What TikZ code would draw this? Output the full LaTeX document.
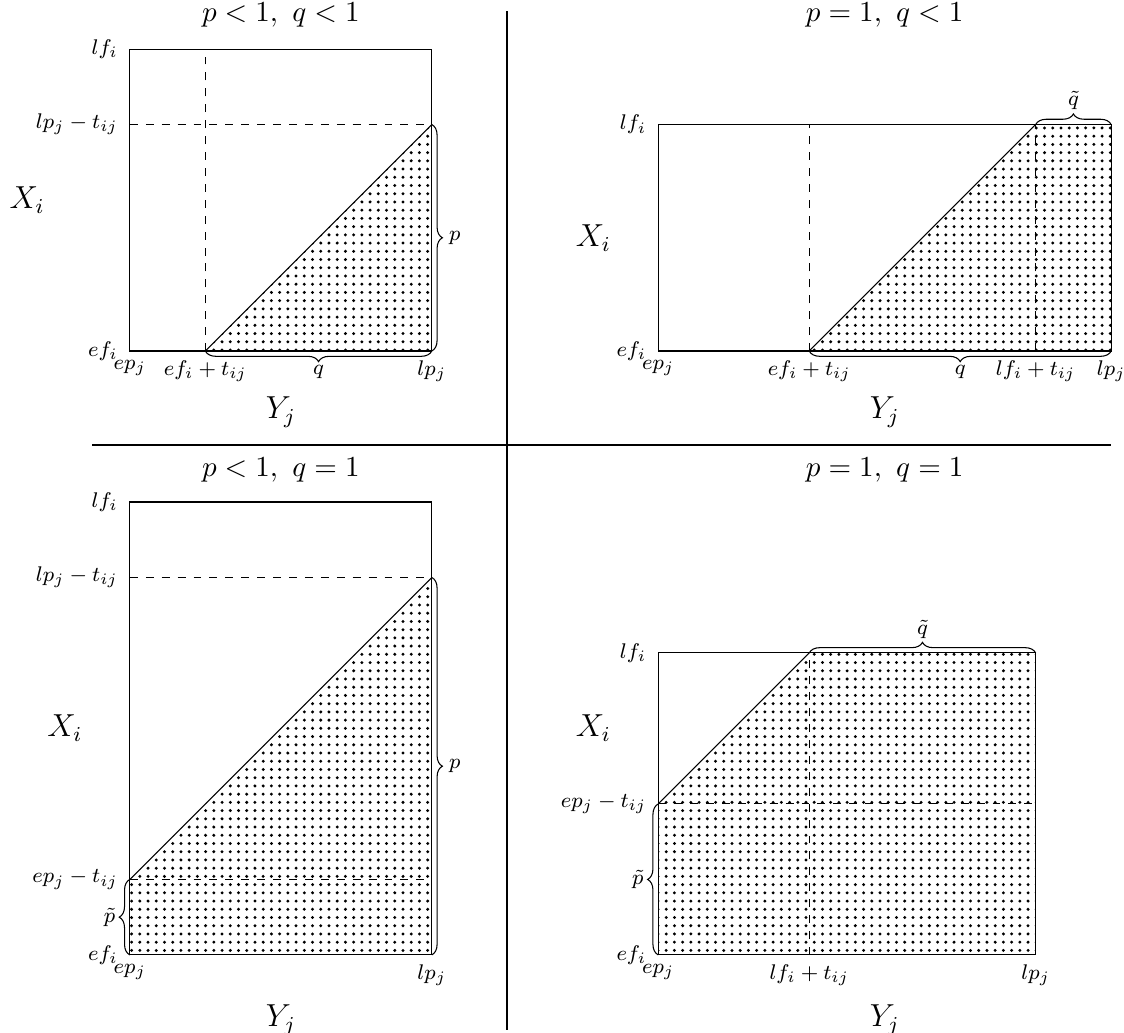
\documentclass[tikz,border=0pt]{standalone}
\usepackage{amsmath,amssymb}
\usepackage{tikz}
\usetikzlibrary{positioning,patterns,decorations.pathreplacing}
\pgfdeclarepatternformonly{bigdots}{\pgfqpoint{-1pt}{-1pt}}{\pgfqpoint{1pt}{1pt}}{\pgfqpoint{3.1pt}{3.1pt}}{%
  \pgfpathcircle{\pgfpointorigin}{0.62pt}\pgfusepath{fill}}
\tikzset{
  ttl/.style={font=\fontsize{11}{13}\selectfont},
  axlbl/.style={font=\large},
  lbl/.style={font=\footnotesize},
  brc/.style={decorate, decoration={brace, amplitude=4pt}},
  guide/.style={dashed},
  shade/.style={pattern=bigdots},
  divider/.style={thick}
}

\begin{document}
\begin{tikzpicture}
    \useasboundingbox (-1.72,-9.03) rectangle (13.17,4.65);
    \draw[divider] (5,4.5) -- (5,-9);
    \draw[divider] (-0.5,-1.25) -- (13,-1.25);

    % p<1, q<1
    \fill[shade] (1,0) -- (4,3) -- (4,0) -- cycle;
    \draw (0,0) rectangle (4,4);
    \draw[guide] (1,0) -- (1,4);
    \draw[guide] (0,3) -- (4,3);
    \draw (1,0) -- (4,3);
    \draw[brc] (4,3) -- node[lbl, right=3pt] (pA) {$p$} (4,0);
    \draw[brc] (4,0) -- node[lbl, below=2pt] (qA) {$q$} (1,0);
    \node[ttl] (titleA) at (2,4.45) {$p<1,\ q<1$};
    \node[axlbl] (xA) at (-1.36,2) {$X_i$};
    \node[axlbl] (yA) at (2,-0.81) {$Y_j$};
    \node[lbl, left=1pt] (lfA) at (0,4) {$lf_i$};
    \node[lbl, left=1pt] (lptA) at (0,3) {$lp_j-t_{ij}$};
    \node[lbl, left=1pt] (efA) at (0,0) {$ef_i$};
    \node[lbl, below] (epA) at (0,0) {$ep_j$};
    \node[lbl, below] (eftA) at (1,0) {$ef_i+t_{ij}$};
    \node[lbl, below] (lpA) at (4,0) {$lp_j$};

    % p=1, q<1
    \begin{scope}[shift={(7,0)}]
      \fill[shade] (2,0) -- (5,3) -- (6,3) -- (6,0) -- cycle;
      \draw (0,0) rectangle (6,3);
      \draw[guide] (2,0) -- (2,3);
      \draw[guide] (5,0) -- (5,3);
      \draw (2,0) -- (5,3);
      \draw[brc] (5,3) -- node[lbl, above=2pt] (qtB) {$\tilde{q}$} (6,3);
      \draw[brc] (6,0) -- node[lbl, below=2pt] (qB) {$q$} (2,0);
      \node[ttl] (titleB) at (3,4.45) {$p=1,\ q<1$};
      \node[axlbl] (xB) at (-0.86,1.5) {$X_i$};
      \node[axlbl] (yB) at (3,-0.81) {$Y_j$};
      \node[lbl, left=1pt] (lfB) at (0,3) {$lf_i$};
      \node[lbl, left=1pt] (efB) at (0,0) {$ef_i$};
      \node[lbl, below] (epB) at (0,0) {$ep_j$};
      \node[lbl, below] (eftB) at (2,0) {$ef_i+t_{ij}$};
      \node[lbl, below] (lftB) at (5,0) {$lf_i+t_{ij}$};
      \node[lbl, below] (lpB) at (6,0) {$lp_j$};
    \end{scope}

    % p<1, q=1
    \begin{scope}[shift={(0,-8)}]
      \fill[shade] (0,0) -- (0,1) -- (4,5) -- (4,0) -- cycle;
      \draw (0,0) rectangle (4,6);
      \draw[guide] (0,5) -- (4,5);
      \draw[guide] (0,1) -- (4,1);
      \draw (0,1) -- (4,5);
      \draw[brc] (4,5) -- node[lbl, right=3pt] (pC) {$p$} (4,0);
      \draw[brc] (0,0) -- node[lbl, left=2pt] (ptC) {$\tilde{p}$} (0,1);
      \node[ttl] (titleC) at (2,6.42) {$p<1,\ q=1$};
      \node[axlbl] (xC) at (-0.86,3) {$X_i$};
      \node[axlbl] (yC) at (2,-0.86) {$Y_j$};
      \node[lbl, left=1pt] (lfC) at (0,6) {$lf_i$};
      \node[lbl, left=1pt] (lptC) at (0,5) {$lp_j-t_{ij}$};
      \node[lbl, left=1pt] (eptC) at (0,1) {$ep_j-t_{ij}$};
      \node[lbl, left=1pt] (efC) at (0,0) {$ef_i$};
      \node[lbl, below] (epC) at (0,0) {$ep_j$};
      \node[lbl, below] (lpC) at (4,0) {$lp_j$};
    \end{scope}

    % p=1, q=1
    \begin{scope}[shift={(7,-8)}]
      \fill[shade] (0,0) -- (0,2) -- (2,4) -- (5,4) -- (5,0) -- cycle;
      \draw (0,0) rectangle (5,4);
      \draw[guide] (2,0) -- (2,4);
      \draw[guide] (0,2) -- (5,2);
      \draw (0,2) -- (2,4);
      \draw[brc] (2,4) -- node[lbl, above=2pt] (qtD) {$\tilde{q}$} (5,4);
      \draw[brc] (0,0) -- node[lbl, left=2pt] (ptD) {$\tilde{p}$} (0,2);
      \node[ttl] (titleD) at (3,6.42) {$p=1,\ q=1$};
      \node[axlbl] (xD) at (-0.86,3) {$X_i$};
      \node[axlbl] (yD) at (3,-0.86) {$Y_j$};
      \node[lbl, left=1pt] (lfD) at (0,4) {$lf_i$};
      \node[lbl, left=1pt] (eptD) at (0,2) {$ep_j-t_{ij}$};
      \node[lbl, left=1pt] (efD) at (0,0) {$ef_i$};
      \node[lbl, below] (epD) at (0,0) {$ep_j$};
      \node[lbl, below] (lftD) at (2,0) {$lf_i+t_{ij}$};
      \node[lbl, below] (lpD) at (5,0) {$lp_j$};
    \end{scope}
  \end{tikzpicture}
\end{document}
